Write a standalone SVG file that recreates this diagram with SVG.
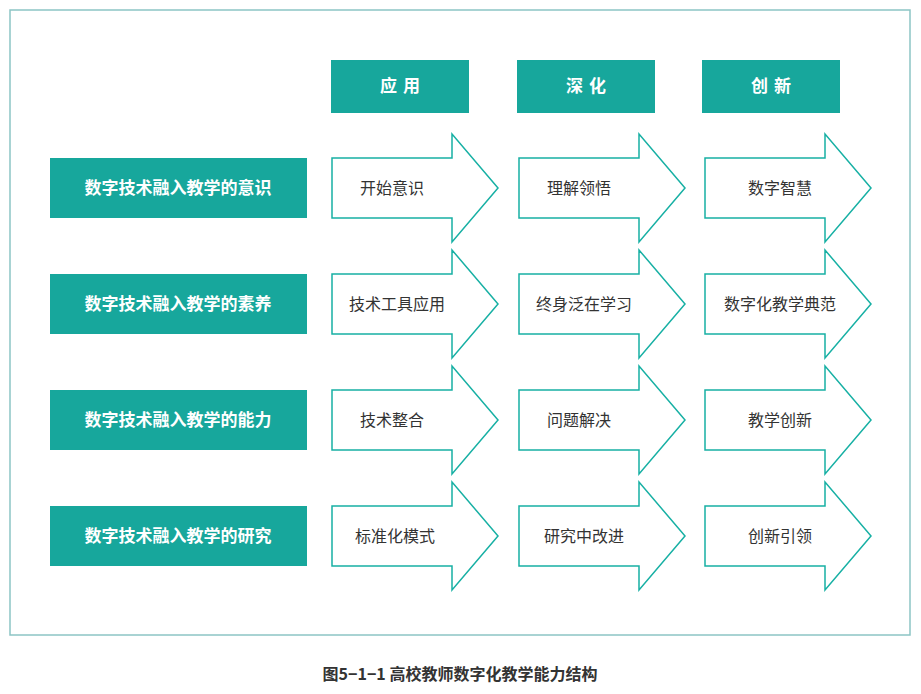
<svg xmlns="http://www.w3.org/2000/svg" width="921" height="694" viewBox="0 0 921 694">
<style>
.hd{fill:#17a79c}
.ht{font-family:"Noto Sans CJK SC",sans-serif;font-size:17px;font-weight:bold;fill:#fff;text-anchor:middle;letter-spacing:6px}
.lt{font-family:"Noto Sans CJK SC",sans-serif;font-size:17px;font-weight:bold;fill:#fff;text-anchor:middle}
.ar{fill:#fff;stroke:#17b0a4;stroke-width:1.5}
.at{font-family:"Noto Sans CJK SC",sans-serif;font-size:16px;fill:#333;text-anchor:middle}
</style>
<defs><path id="arr" d="M332,-30 H452 V-54 L498,0 L452,54 V30 H332 Z"/></defs>
<rect width="921" height="694" fill="#fff"/>
<rect x="10" y="10" width="900" height="625" fill="none" stroke="#8cc5c5" stroke-width="1.5"/>
<g id="headers">
<rect class="hd" x="331" y="60" width="138" height="53"/><text class="ht" x="403" y="92">应用</text>
<rect class="hd" x="517" y="60" width="138" height="53"/><text class="ht" x="589" y="92">深化</text>
<rect class="hd" x="702" y="60" width="138" height="53"/><text class="ht" x="774" y="92">创新</text>
</g>
<g id="rows">
<g id="r1"><rect class="hd" x="50" y="158" width="257" height="60"/><text class="lt" x="178" y="194">数字技术融入教学的意识</text></g>
<g id="r2"><rect class="hd" x="50" y="274" width="257" height="60"/><text class="lt" x="178" y="310">数字技术融入教学的素养</text></g>
<g id="r3"><rect class="hd" x="50" y="390" width="257" height="60"/><text class="lt" x="178" y="426">数字技术融入教学的能力</text></g>
<g id="r4"><rect class="hd" x="50" y="506" width="257" height="60"/><text class="lt" x="178" y="542">数字技术融入教学的研究</text></g>
</g>
<g id="arrows">
<g transform="translate(0,188)"><use href="#arr" class="ar"/><text class="at" x="392" y="6">开始意识</text></g>
<g transform="translate(187,188)"><use href="#arr" class="ar"/><text class="at" x="392" y="6">理解领悟</text></g>
<g transform="translate(373,188)"><use href="#arr" class="ar"/><text class="at" x="407" y="6">数字智慧</text></g>
<g transform="translate(0,304)"><use href="#arr" class="ar"/><text class="at" x="397" y="6">技术工具应用</text></g>
<g transform="translate(187,304)"><use href="#arr" class="ar"/><text class="at" x="397" y="6">终身泛在学习</text></g>
<g transform="translate(373,304)"><use href="#arr" class="ar"/><text class="at" x="407" y="6">数字化教学典范</text></g>
<g transform="translate(0,420)"><use href="#arr" class="ar"/><text class="at" x="392" y="6">技术整合</text></g>
<g transform="translate(187,420)"><use href="#arr" class="ar"/><text class="at" x="392" y="6">问题解决</text></g>
<g transform="translate(373,420)"><use href="#arr" class="ar"/><text class="at" x="407" y="6">教学创新</text></g>
<g transform="translate(0,536)"><use href="#arr" class="ar"/><text class="at" x="395" y="6">标准化模式</text></g>
<g transform="translate(187,536)"><use href="#arr" class="ar"/><text class="at" x="397" y="6">研究中改进</text></g>
<g transform="translate(373,536)"><use href="#arr" class="ar"/><text class="at" x="407" y="6">创新引领</text></g>
</g>
<text x="460" y="680" font-family="Noto Sans CJK SC,sans-serif" font-size="16" font-weight="bold" fill="#333" text-anchor="middle">图5−1−1 高校教师数字化教学能力结构</text>
</svg>
